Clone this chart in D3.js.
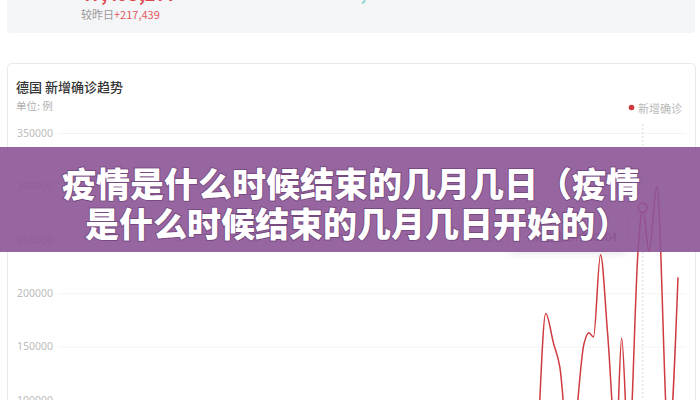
<!DOCTYPE html>
<html><head><meta charset="utf-8">
<script src="https://cdn.jsdelivr.net/npm/d3@7/dist/d3.min.js"></script>
<style>
html,body{margin:0;padding:0;background:#fff;overflow:hidden;}
svg{display:block;font-family:"Noto Sans CJK SC","Noto Sans",sans-serif;}
</style></head>
<body>
<svg id="c" width="700" height="400"></svg>
<script>
// ---- data ----
const title = "德国 新增确诊趋势";
const unitLabel = "单位: 例";
const seriesName = "新增确诊";
const bannerLines = ["疫情是什么时候结束的几月几日（疫情", "是什么时候结束的几月几日开始的）"];
const summaryTotal = "47,495,277";
const summaryChangeLabel = "较昨日";
const summaryChange = "+217,439";
const yTicks = [0, 50000, 100000, 150000, 200000, 250000, 300000, 350000];
const dates = ["2020-01-28","2020-04-01","2020-07-01","2020-10-30","2020-12-30","2021-03-01","2021-04-20","2021-06-30","2021-08-30",
  "2021-09-23","2021-10-07","2021-10-17","2021-10-25","2021-11-07","2021-11-25","2021-12-01","2021-12-07","2021-12-16","2021-12-25",
  "2022-01-05","2022-01-12","2022-01-21","2022-02-02","2022-02-08","2022-02-16","2022-02-26","2022-03-13","2022-03-25"];
const values = [0, 6000, 500, 20000, 30000, 8000, 25000, 800, 8000,
  30000, 181000, 153000, 131000, 40000, 153000, 163000, 159000, 236000, 163000,
  60000, 158000, 50000, 240000, 280004, 239000, 300000, 60000, 215000];
const tooltipIndex = 23;
const tooltipDate = "02-08";

// ---- drawing ----
const svg = d3.select("#c");
const parse = d3.timeParse("%Y-%m-%d");
const data = dates.map((d, i) => ({date: parse(d), value: values[i]}));

// top summary card
svg.append("rect").attr("x", 7).attr("y", -10).attr("width", 688).attr("height", 43).attr("rx", 4)
  .attr("fill", "#f4f5f7");
svg.append("text").attr("x", 80).attr("y", 0.5).attr("font-size", 18).attr("font-weight", 700)
  .attr("fill", "#e0474c").text(summaryTotal);
svg.append("text").attr("x", 350).attr("y", 0).attr("font-size", 18).attr("font-weight", 700)
  .attr("fill", "#7fd6cc").text("3,6");
const chg = svg.append("text").attr("x", 81).attr("y", 14).attr("dominant-baseline", "central").attr("font-size", 11);
chg.append("tspan").attr("fill", "#9a9a9a").text(summaryChangeLabel);
chg.append("tspan").attr("fill", "#e25a5e").text(summaryChange);

// chart card
svg.append("rect").attr("x", 7.5).attr("y", 63.5).attr("width", 688).attr("height", 360).attr("rx", 4)
  .attr("fill", "#fff").attr("stroke", "#e9e9e9");
svg.append("text").attr("x", 16).attr("y", 86).attr("dominant-baseline", "central")
  .attr("font-size", 13).attr("font-weight", 500).attr("fill", "#333").text(title);
svg.append("text").attr("x", 16).attr("y", 105).attr("dominant-baseline", "central")
  .attr("font-size", 10.5).attr("fill", "#b0b0b0").text(unitLabel);

// legend
svg.append("circle").attr("cx", 631.5).attr("cy", 107.5).attr("r", 2.8).attr("fill", "#d2373c");
svg.append("text").attr("x", 638).attr("y", 107.5).attr("dominant-baseline", "central")
  .attr("font-size", 11).attr("fill", "#b8b8b8").text(seriesName);

// scales
const x = d3.scaleTime().domain([parse("2020-01-28"), parse("2022-03-25")]).range([62, 678]);
const y = d3.scaleLinear().domain([0, 350000]).range([506.8, 133]);

// grid + y axis
const gAxis = svg.append("g").attr("transform", "translate(53,0)")
  .call(d3.axisLeft(y).tickValues(yTicks).tickFormat(d3.format("d")).tickSize(0).tickPadding(0));
gAxis.select(".domain").remove();
gAxis.selectAll("text").attr("fill", "#bdbdbd").attr("font-size", 10.5)
  .attr("font-family", "'Noto Sans','Open Sans',sans-serif");
svg.append("g").selectAll("line").data(yTicks).join("line")
  .attr("x1", 58).attr("x2", 686).attr("y1", d => y(d) + 0.5).attr("y2", d => y(d) + 0.5)
  .attr("stroke", "#f3f3f3");

// axis pointer
const tp = data[tooltipIndex];
svg.append("line").attr("x1", x(tp.date)).attr("x2", x(tp.date)).attr("y1", 124).attr("y2", 400)
  .attr("stroke", "#d8d8d8").attr("stroke-dasharray", "2,2");

// line
svg.append("path").datum(data)
  .attr("d", d3.line().x(d => x(d.date)).y(d => y(d.value)).curve(d3.curveMonotoneX))
  .attr("fill", "none").attr("stroke", "#cf3b3e").attr("stroke-width", 1.5);
svg.append("circle").attr("cx", x(tp.date)).attr("cy", y(tp.value)).attr("r", 4.5)
  .attr("fill", "#fff").attr("stroke", "#d23d40").attr("stroke-width", 1.5);

// tooltip
const defs = svg.append("defs");
const f = defs.append("filter").attr("id", "sh").attr("x", "-20%").attr("y", "-20%").attr("width", "140%").attr("height", "160%");
f.append("feDropShadow").attr("dx", 0).attr("dy", 3).attr("stdDeviation", 4).attr("flood-color", "#000").attr("flood-opacity", 0.12);
svg.append("rect").attr("x", 509).attr("y", 203).attr("width", 117).attr("height", 46).attr("rx", 4)
  .attr("fill", "#fff").attr("stroke", "#eee").attr("filter", "url(#sh)");
svg.append("text").attr("x", 531).attr("y", 220).attr("dominant-baseline", "central")
  .attr("font-size", 11).attr("fill", "#555").text(tooltipDate);
svg.append("text").attr("x", 531).attr("y", 236).attr("dominant-baseline", "central")
  .attr("font-size", 11).attr("fill", "#555").text(seriesName + ": " + tp.value);

// banner overlay
svg.append("rect").attr("x", 0).attr("y", 147).attr("width", 700).attr("height", 105)
  .attr("fill", "rgb(140,84,150)").attr("opacity", 0.9);
svg.append("g").selectAll("text").data(bannerLines).join("text")
  .attr("x", (d, i) => i === 0 ? 351 : 357).attr("y", (d, i) => 182 + i * 40)
  .attr("text-anchor", "middle").attr("dominant-baseline", "central")
  .attr("font-size", 34).attr("font-weight", 900).attr("fill", "#fff")
  .attr("stroke", "rgba(60,25,70,0.35)").attr("stroke-width", 2).attr("paint-order", "stroke")
  .text(d => d);
</script>
</body></html>
